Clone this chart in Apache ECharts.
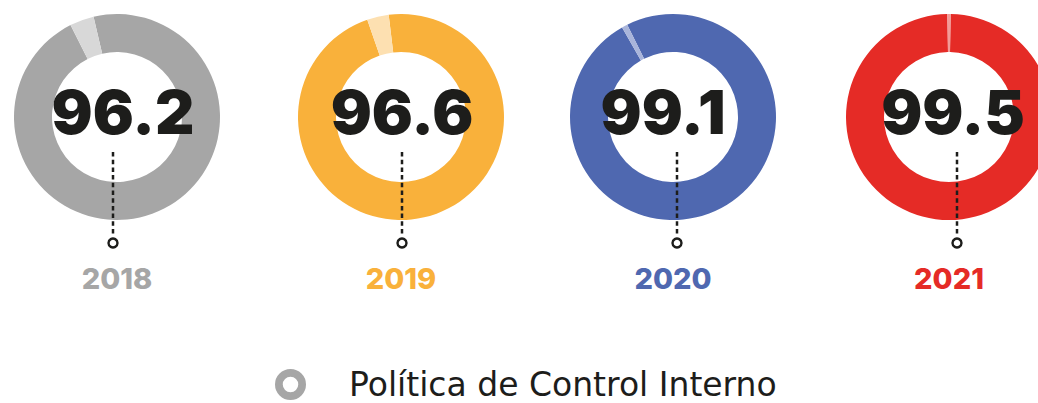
<!DOCTYPE html>
<html>
<head>
<meta charset="utf-8">
<script src="https://cdn.jsdelivr.net/npm/echarts@6/dist/echarts.min.js"></script>
<style>
  html, body { margin: 0; padding: 0; background: #ffffff; }
  #chart { width: 1038px; height: 403px; }
</style>
</head>
<body>
<div id="chart"></div>
<script>
// Yearly compliance score of the internal control policy
const years = ['2018', '2019', '2020', '2021'];
const scores = [96.2, 96.6, 99.1, 99.5];
const seriesLabel = 'Política de Control Interno';
const restLabel = 'Pendiente';

// Palette: full ring colour and the lighter tone for the remainder
const mainColors = ['#a6a6a6', '#f9b13b', '#4f68b0', '#e52b26'];
const lightColors = ['#d8d8d8', '#fde0b1', '#a9b5db', '#f29c98'];

// Layout (pixels)
const ringX = [117, 401, 673, 949];
const ringY = 117;
const ringRadius = [65, 103];
const restCenterDeg = [20, 13, 28, 0];   // remainder arc centre, degrees anticlockwise from 12 o'clock
const numberX = [123, 402, 663, 953];
const numberY = 112;
const stemX = [113, 402, 677, 957];
const stemTop = 152;
const stemBottom = 234;
const dotY = 243;
const yearY = 278;

const ink = '#1d1d1b';

// Ring-shaped legend marker
const ringIcon = 'path://M15,0A15,15 0 1,0 15,30A15,15 0 1,0 15,0ZM15,7.5A7.5,7.5 0 1,1 15,22.5A7.5,7.5 0 1,1 15,7.5Z';

const series = scores.map((s, i) => {
  const rest = +(100 - s).toFixed(1);
  return {
    type: 'pie',
    name: years[i],
    center: [ringX[i], ringY],
    radius: ringRadius,
    startAngle: 90 + restCenterDeg[i] - rest * 1.8,
    clockwise: true,
    silent: true,
    animation: false,
    label: { show: false },
    labelLine: { show: false },
    emphasis: { disabled: true },
    itemStyle: { borderWidth: 0 },
    data: [
      { name: seriesLabel, value: s, itemStyle: { color: mainColors[i] } },
      { name: restLabel, value: rest, itemStyle: { color: lightColors[i] } }
    ]
  };
});

const graphics = [];
scores.forEach((s, i) => {
  graphics.push({
    type: 'line', z: 10, silent: true,
    shape: { x1: stemX[i], y1: stemTop, x2: stemX[i], y2: stemBottom },
    style: { stroke: ink, lineWidth: 2.5, lineDash: [4.5, 3.2] }
  });
  graphics.push({
    type: 'circle', z: 10, silent: true,
    shape: { cx: stemX[i], cy: dotY, r: 4.5 },
    style: { fill: '#ffffff', stroke: ink, lineWidth: 2.4 }
  });
  graphics.push({
    type: 'text', z: 20, silent: true,
    x: numberX[i], y: numberY,
    style: {
      text: s.toFixed(1),
      fill: ink,
      font: '900 61px Inter, "DejaVu Sans", sans-serif',
      textAlign: 'center',
      textVerticalAlign: 'middle'
    }
  });
  graphics.push({
    type: 'text', z: 20, silent: true,
    x: ringX[i], y: yearY,
    style: {
      text: years[i],
      fill: mainColors[i],
      font: '800 29px Inter, "DejaVu Sans", sans-serif',
      textAlign: 'center',
      textVerticalAlign: 'middle'
    }
  });
});

const chart = echarts.init(document.getElementById('chart'), null, { renderer: 'svg' });
chart.setOption({
  backgroundColor: '#ffffff',
  animation: false,
  legend: {
    data: [seriesLabel],
    left: 275,
    top: 368,
    padding: 0,
    icon: ringIcon,
    itemWidth: 31,
    itemHeight: 31,
    selectedMode: false,
    itemStyle: { color: '#a6a6a6', borderWidth: 0 },
    textStyle: {
      fontFamily: '"DejaVu Sans", sans-serif',
      fontSize: 33,
      color: ink,
      padding: [0, 0, 0, 38]
    }
  },
  series: series,
  graphic: graphics
});
</script>
</body>
</html>
